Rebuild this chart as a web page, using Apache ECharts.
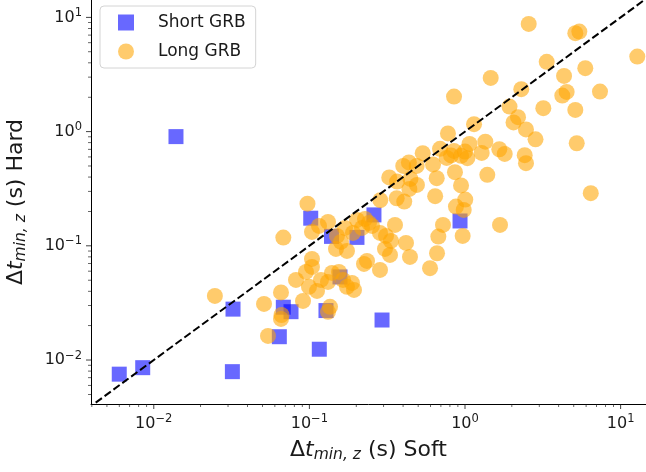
<!DOCTYPE html>
<html>
<head>
<meta charset="utf-8">
<script src="https://cdn.jsdelivr.net/npm/echarts@6/dist/echarts.min.js"></script>
<style>
html,body{margin:0;padding:0;background:#fff;}
#c{width:646px;height:472px;}
</style>
</head>
<body>
<div id="c"></div>
<script>
// ---- axis ranges (log axes) ----
const xMin = 0.00395, xMax = 14.56;
const yMin = 0.00412, yMax = 14.2;

// ---- tick values ----
const majorTicks = [0.01, 0.1, 1, 10];
const xMinorTicks = [0.004,0.005,0.006,0.007,0.008,0.009,
  0.02,0.03,0.04,0.05,0.06,0.07,0.08,0.09,
  0.2,0.3,0.4,0.5,0.6,0.7,0.8,0.9,
  2,3,4,5,6,7,8,9];
const yMinorTicks = [0.005,0.006,0.007,0.008,0.009,
  0.02,0.03,0.04,0.05,0.06,0.07,0.08,0.09,
  0.2,0.3,0.4,0.5,0.6,0.7,0.8,0.9,
  2,3,4,5,6,7,8,9];

// ---- Short GRB (soft, hard) ----
const shortSoft = [0.0060,0.00849,0.0320,0.0323,0.0641,0.0680,0.0762,0.1158,0.1278,0.293,
  0.01389,0.102,0.929,0.260,0.1387,0.1573,0.2022];
const shortHard = [0.00752,0.00857,0.00791,0.0279,0.0160,0.0290,0.0265,0.01243,0.0271,0.0224,
  0.904,0.1745,0.165,0.1865,0.1209,0.0534,0.1185];

// ---- Long GRB (soft, hard) ----
const longSoft = [
  2.567,5.116,5.428,12.8,3.35,5.93,1.463,4.33,2.30,7.37,
  0.850,4.50,4.22,3.186,5.116,1.932,2.191,2.050,1.143,2.466,
  2.839,0.777,5.224,1.351,1.069,0.691,1.661,1.800,1.280,0.850,
  0.813,0.943,1.0,1.035,2.419,2.466,0.535,0.623,0.763,0.401,
  0.436,0.489,0.658,0.862,1.391,0.326,0.366,0.446,0.491,0.439,
  0.943,6.43,0.643,0.364,0.407,0.2855,1.004,0.875,0.981,0.0972,
  1.679,0.966,0.722,0.674,0.661,0.596,0.1039,0.1153,0.1317,0.1504,
  0.1596,0.1482,0.1694,0.1906,0.1744,0.2022,0.2277,0.2415,0.2178,0.2525,
  0.2843,0.3107,0.3344,0.306,0.3296,0.3549,0.4177,0.443,
  0.1039,0.1039,0.0951,0.0820,0.0994,0.1119,0.1187,0.1317,0.1397,0.1549,
  0.1644,0.1878,0.1744,0.0910,0.1357,0.1317,0.1935,0.2243,0.2346,0.2843,
  0.0247,0.0511,0.0542,0.0657,0.0662,0.0657,0.0680];
const longHard = [
  8.77,7.27,7.51,4.54,4.08,3.59,2.953,3.075,2.351,2.240,
  2.025,2.226,2.067,1.603,1.549,1.655,1.337,1.204,1.161,1.045,
  0.855,0.964,0.791,0.817,0.780,0.706,0.701,0.638,0.651,0.678,
  0.619,0.613,0.668,0.585,0.622,0.529,0.647,0.516,0.588,0.501,
  0.537,0.501,0.391,0.441,0.418,0.397,0.365,0.385,0.341,0.315,
  0.338,0.289,0.272,0.261,0.244,0.251,0.254,0.2204,0.2062,0.234,
  0.1524,0.1221,0.1524,0.1204,0.0861,0.0637,0.1323,0.1494,0.1619,0.1221,
  0.1082,0.0939,0.1435,0.1297,0.0902,0.1685,0.172,0.1587,0.1435,0.1494,
  0.1297,0.1221,0.1104,0.0939,0.0832,0.1524,0.106,0.0799,
  0.0768,0.0653,0.0591,0.0503,0.0437,0.0403,0.0503,0.0483,0.0579,0.0591,
  0.0503,0.0473,0.0437,0.0329,0.0292,0.0264,0.0411,0.0694,0.0738,0.0615,
  0.0364,0.0310,0.01626,0.0391,0.0248,0.0229,0.1180];

const zip = (a, b) => a.map((v, i) => [v, b[i]]);

const FONT = 'DejaVu Sans';
const TXT = '#1a1a1a';

function powLabel(v) {
  const e = Math.log10(v);
  const r = Math.round(e);
  if (Math.abs(e - r) > 1e-6) return '';
  const s = r < 0 ? '\u2212' + (-r) : '' + r;
  return '{b|10}{s|' + s + '}';
}
const tickRich = {
  b: {fontSize: 16, fontFamily: FONT, color: TXT},
  s: {fontSize: 11.5, fontFamily: FONT, color: TXT, padding: [0, 0, 9, 0]}
};
const nameRich = {
  a: {fontSize: 22, fontFamily: FONT, color: TXT},
  i: {fontSize: 22, fontFamily: FONT, fontStyle: 'italic', color: TXT},
  s: {fontSize: 15.5, fontFamily: FONT, fontStyle: 'italic', color: TXT, padding: [10, 0, 0, 0]}
};

const tickColor = '#111';
const chart = echarts.init(document.getElementById('c'), null, {renderer: 'canvas'});
chart.setOption({
  animation: false,
  backgroundColor: '#fff',
  grid: {left: 91, right: 0, top: 0, bottom: 68, outerBoundsMode: 'none'},
  legend: {
    orient: 'vertical', left: 100, top: 6,
    padding: [8, 10, 8, 18], itemWidth: 16, itemHeight: 16, itemGap: 12,
    backgroundColor: 'rgba(255,255,255,0.8)', borderColor: '#d4d4d4', borderWidth: 1, borderRadius: 4,
    textStyle: {fontFamily: FONT, fontSize: 17, color: TXT, padding: [0, 0, 0, 19], lineHeight: 16},
    data: ['Short GRB', 'Long GRB']
  },
  xAxis: {
    type: 'log', logBase: 10, min: xMin, max: xMax,
    splitLine: {show: false}, axisTick: {show: false}, minorTick: {show: false},
    axisLine: {lineStyle: {color: '#000', width: 1}},
    axisLabel: {formatter: powLabel, rich: tickRich, margin: 9, color: TXT},
    name: '{a|\u0394}{i|t}{s|min, z}{a| (s) Soft}', nameLocation: 'middle', nameGap: 33,
    nameTextStyle: {rich: nameRich}
  },
  yAxis: {
    type: 'log', logBase: 10, min: yMin, max: yMax,
    splitLine: {show: false}, axisTick: {show: false}, minorTick: {show: false},
    axisLine: {lineStyle: {color: '#000', width: 1}},
    axisLabel: {formatter: powLabel, rich: tickRich, margin: 9, color: TXT},
    name: '{a|\u0394}{i|t}{s|min, z}{a| (s) Hard}', nameLocation: 'middle', nameGap: 62,
    nameTextStyle: {rich: nameRich}
  },
  series: [
    {
      name: 'Short GRB', type: 'scatter', symbol: 'rect', symbolSize: 15,
      itemStyle: {color: 'rgba(0,0,255,0.74)'},
      data: zip(shortSoft, shortHard), z: 2
    },
    {
      name: 'Long GRB', type: 'scatter', symbol: 'circle', symbolSize: 16,
      itemStyle: {color: 'rgba(255,165,0,0.72)'},
      data: zip(longSoft, longHard), z: 2
    },
    {
      type: 'line', data: [[0.001, 0.001], [100, 100]], symbol: 'none', z: 3,
      lineStyle: {color: '#000', width: 2, type: [7.7, 3.3]}, silent: true
    },
    // ticks
    {type: 'scatter', silent: true, clip: false, z: 4, symbol: 'rect', symbolSize: [1, 5], symbolOffset: [0, 2.5],
      itemStyle: {color: tickColor}, data: majorTicks.map(v => [v, yMin])},
    {type: 'scatter', silent: true, clip: false, z: 4, symbol: 'rect', symbolSize: [0.8, 3], symbolOffset: [0, 1.5],
      itemStyle: {color: tickColor}, data: xMinorTicks.map(v => [v, yMin])},
    {type: 'scatter', silent: true, clip: false, z: 4, symbol: 'rect', symbolSize: [5, 1], symbolOffset: [-2.5, 0],
      itemStyle: {color: tickColor}, data: majorTicks.map(v => [xMin, v])},
    {type: 'scatter', silent: true, clip: false, z: 4, symbol: 'rect', symbolSize: [3, 0.8], symbolOffset: [-1.5, 0],
      itemStyle: {color: tickColor}, data: yMinorTicks.map(v => [xMin, v])}
  ]
});
</script>
</body>
</html>
